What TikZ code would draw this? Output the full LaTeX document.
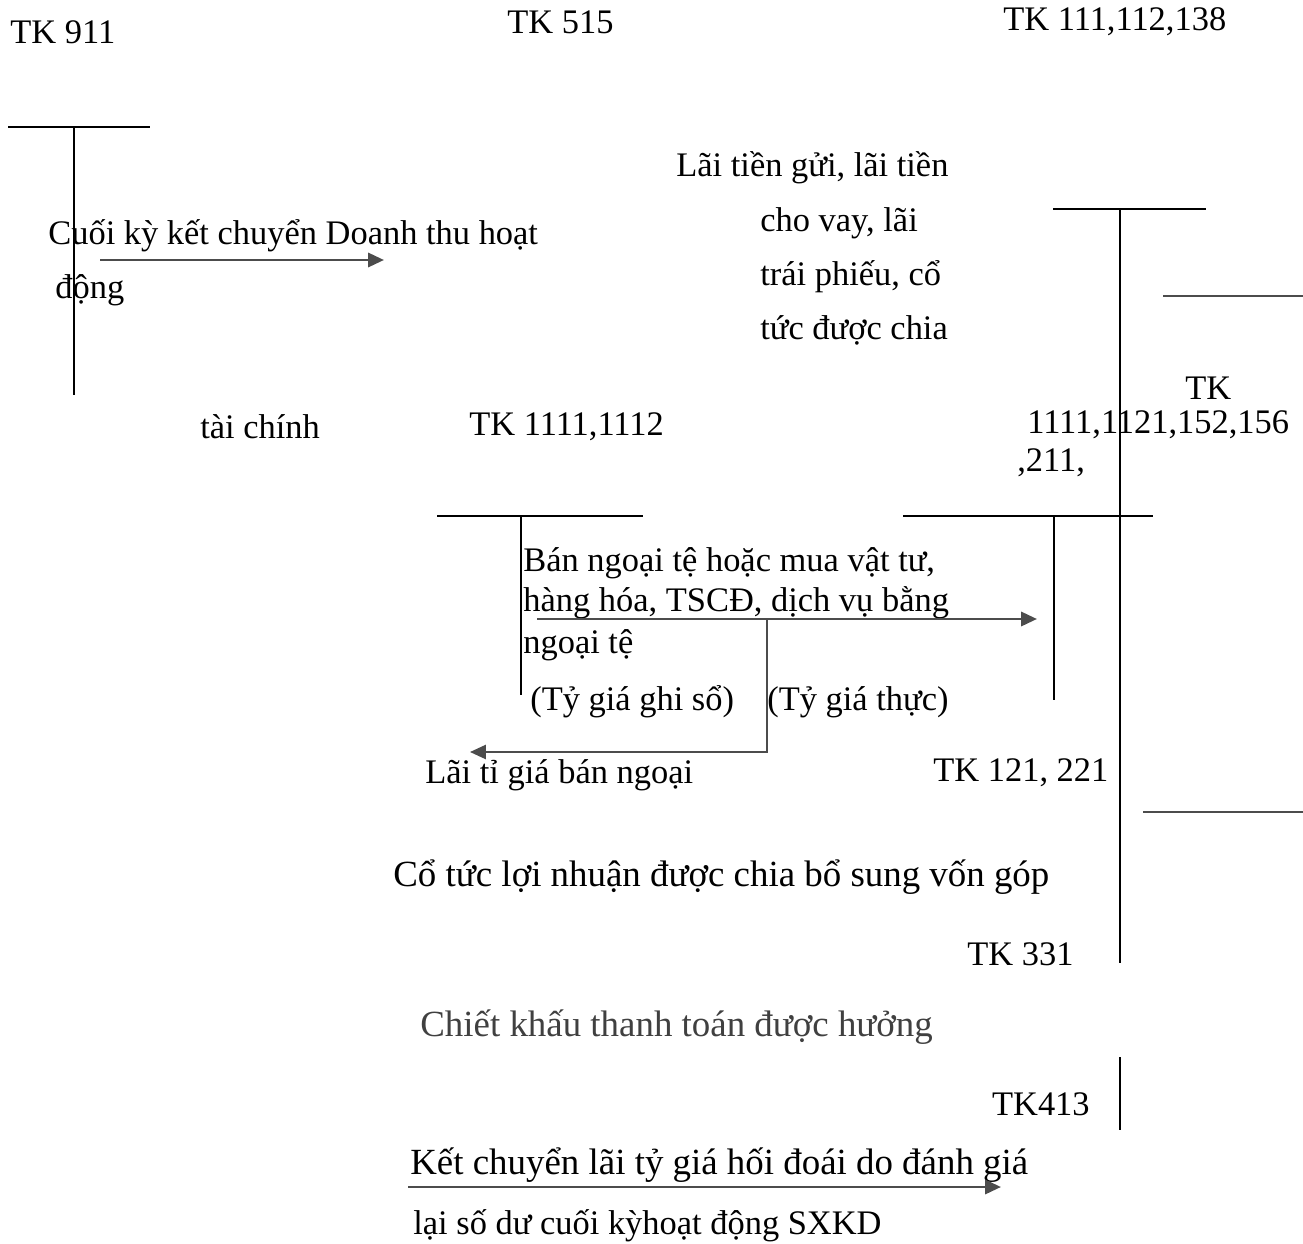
\documentclass[tikz,border=0pt]{standalone}
\usepackage{fontspec}
\setmainfont{Liberation Serif}
\usetikzlibrary{arrows.meta}
\tikzset{
  lbl/.style={anchor=west, inner sep=0pt, font=\fontsize{19.6}{22}\selectfont},
  lblbig/.style={lbl, font=\fontsize{21}{24}\selectfont},
  tline/.style={line width=1pt},
  flow/.style={line width=1.6pt, black!70, -{Triangle[length=9pt,width=8pt]}},
}
\begin{document}
\begin{tikzpicture}[x=0.02cm, y=-0.02cm]
    \useasboundingbox (0,0) rectangle (1303,1244);
    % tên tài khoản
    \node[lbl] (tk911) at (10,32) {TK 911};
    \node[lbl] (tk515) at (507,22) {TK 515};
    \node[lbl] (tk111) at (1003,22) {TK 111,112,138};
    % chữ T của TK 911
    \draw[tline] (8,127) -- (150,127);
    \draw[tline] (74,127) -- (74,395);
    \node[lbl] (kc1) at (48,236) {Cuối kỳ kết chuyển Doanh thu hoạt};
    \node[lbl] (kc2) at (55,290) {động};
    \coordinate (kcA) at (100,260);
    \coordinate (kcB) at (384,260);
    \draw[flow] (kcA) -- (kcB);
    \node[lbl] (tc) at (200,427) {tài chính};
    \node[lbl] (tk1111) at (469,427) {TK 1111,1112};
    % lãi tiền gửi
    \node[lbl] (lai1) at (676,168) {Lãi tiền gửi, lãi tiền};
    \node[lbl] (lai2) at (760,223) {cho vay, lãi};
    \node[lbl] (lai3) at (760,277) {trái phiếu, cổ};
    \node[lbl] (lai4) at (760,330) {tức được chia};
    % chữ T bên phải
    \draw[tline] (1053,209) -- (1206,209);
    \draw[tline] (1120,209) -- (1120,963);
    \draw[tline, black!70] (1163,296) -- (1303,296);
    \node[lbl] (tkb1) at (1185,388) {TK};
    \node[lbl] (tkb2) at (1027,425) {1111,1121,152,156};
    \node[lbl] (tkb3) at (1017,463) {,211,};
    \draw[tline] (903,516) -- (1153,516);
    \draw[tline] (1054,516) -- (1054,700);
    % chữ T của TK 1111,1112
    \draw[tline] (437,516) -- (643,516);
    \draw[tline] (521,516) -- (521,695);
    \node[lbl] (ban1) at (523,563) {Bán ngoại tệ hoặc mua vật tư,};
    \node[lbl] (ban2) at (523,603) {hàng hóa, TSCĐ, dịch vụ bằng};
    \node[lbl] (ban3) at (523,645) {ngoại tệ};
    \coordinate (banA) at (537,619);
    \coordinate (banB) at (1037,619);
    \draw[flow] (banA) -- (banB);
    \coordinate (tgA) at (767,619);
    \coordinate (tgB) at (767,752);
    \coordinate (tgC) at (470,752);
    \draw[flow, line width=1.2pt] (tgA) -- (tgB) -- (tgC);
    \node[lbl] (gs) at (530,702) {(Tỷ giá ghi sổ)};
    \node[lbl] (gt) at (767,702) {(Tỷ giá thực)};
    \node[lbl] (lai5) at (425,775) {Lãi tỉ giá bán ngoại};
    \node[lbl] (tk121) at (933,773) {TK 121, 221};
    \draw[tline, black!70] (1143,812) -- (1303,812);
    \node[lblbig] (cotuc) at (393,877) {Cổ tức lợi nhuận được chia bổ sung vốn góp};
    \node[lbl] (tk331) at (967,954) {TK 331};
    \node[lblbig, black!75] (ck) at (420,1027) {Chiết khấu thanh toán được hưởng};
    \draw[tline] (1120,1057) -- (1120,1130);
    \node[lbl, anchor=east] (tk413) at (1090,1104) {TK413};
    % kết chuyển TK 413
    \node[lblbig] (kc3) at (410,1165) {Kết chuyển lãi tỷ giá hối đoái do đánh giá};
    \coordinate (kcC) at (408,1187);
    \coordinate (kcD) at (1001,1187);
    \draw[flow] (kcC) -- (kcD);
    \node[lbl] (kc4) at (413,1226) {lại số dư cuối kỳhoạt động SXKD};
\end{tikzpicture}
\end{document}
